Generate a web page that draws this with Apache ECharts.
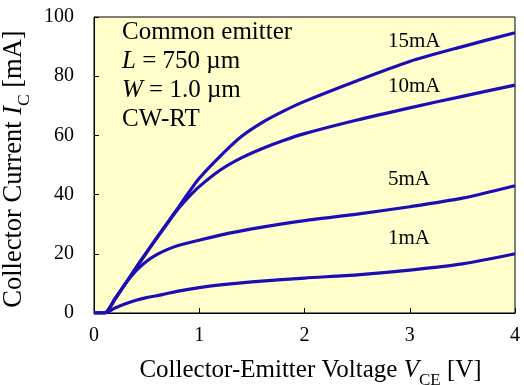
<!DOCTYPE html>
<html><head><meta charset="utf-8">
<script src="https://cdn.jsdelivr.net/npm/echarts@6/dist/echarts.min.js"></script>
<style>html,body{margin:0;padding:0;background:#fff}#c{width:524px;height:385px}</style>
</head><body><div id="c"></div>
<script>
const xTicks = [0, 1, 2, 3, 4];
const yTicks = [0, 20, 40, 60, 80, 100];
const curveNames = ['15mA', '10mA', '5mA', '1mA'];
const vce15 = [0, 0.1, 0.2, 0.3, 0.4, 0.5, 0.6, 0.7, 0.8, 0.9, 1.0, 1.2, 1.4, 1.6, 1.8, 2.0, 2.5, 3.0, 3.5, 4.0];
const ic15  = [0, 0, 4.8, 10, 15.3, 20.5, 25.6, 30.6, 35.6, 40.7, 45.5, 53, 59.6, 64.4, 68.2, 71.5, 78.5, 85, 90, 94.7];
const vce10 = [0, 0.1, 0.2, 0.3, 0.4, 0.5, 0.6, 0.7, 0.8, 0.9, 1.0, 1.2, 1.4, 1.6, 1.8, 2.0, 2.5, 3.0, 3.5, 4.0];
const ic10  = [0, 0, 4.8, 10, 15.3, 20.5, 25.5, 30.4, 35.2, 39.2, 42.7, 48.3, 52.4, 55.6, 58.3, 60.6, 65.2, 69.3, 73.2, 77];
const vce5  = [0, 0.1, 0.2, 0.3, 0.4, 0.5, 0.6, 0.7, 0.8, 1.0, 1.2, 1.5, 2.0, 2.5, 3.0, 3.5, 4.0];
const ic5   = [0, 0, 4.7, 10, 14.3, 17.5, 19.8, 21.5, 22.8, 24.6, 26.3, 28.4, 31.2, 33.4, 35.9, 38.8, 43];
const vce1  = [0, 0.1, 0.2, 0.3, 0.4, 0.5, 0.65, 0.8, 1.0, 1.2, 1.5, 2.0, 2.5, 3.0, 3.5, 4.0];
const ic1   = [0, 0, 1.7, 3.1, 4.3, 5.2, 6.2, 7.4, 8.6, 9.5, 10.5, 11.8, 12.9, 14.5, 16.6, 20];
const noteLines = ['Common emitter', 'L = 750 \u00b5m', 'W = 1.0 \u00b5m', 'CW-RT'];

const FONT = '"Liberation Serif", "Times New Roman", serif';
const LINE = '#1e0cb4';
const pairs = (xs, ys) => xs.map((x, i) => [x, ys[i]]);
const dataSets = [pairs(vce15, ic15), pairs(vce10, ic10), pairs(vce5, ic5), pairs(vce1, ic1)];

const chart = echarts.init(document.getElementById('c'), null, {renderer: 'canvas'});
const option = {
  animation: false,
  backgroundColor: '#ffffff',
  textStyle: {fontFamily: FONT, color: '#000'},
  grid: {left: 94, right: 9, top: 17, bottom: 72, show: true, containLabel: false, outerBoundsMode: 'none',
    backgroundColor: '#ffffcc', borderColor: '#000', borderWidth: 1},
  xAxis: {
    type: 'value', min: xTicks[0], max: xTicks[xTicks.length - 1], interval: 1,
    axisLine: {show: true, lineStyle: {color: '#000', width: 1}},
    axisTick: {show: true, inside: true, length: 5, lineStyle: {color: '#000'}},
    splitLine: {show: false},
    axisLabel: {fontFamily: FONT, fontSize: 20, color: '#000', margin: 13},
    name: 'Collector-Emitter Voltage {i|V}{s|CE} [V]',
    nameLocation: 'middle', nameGap: 45,
    nameTextStyle: {fontFamily: FONT, fontSize: 25, color: '#000', padding: [0, 0, 0, 12],
      rich: {i: {fontFamily: FONT, fontSize: 25, fontStyle: 'italic', color: '#000'},
             s: {fontFamily: FONT, fontSize: 17, color: '#000', verticalAlign: 'bottom', padding: [0, 0, -6, 0]}}}
  },
  yAxis: {
    type: 'value', min: yTicks[0], max: yTicks[yTicks.length - 1], interval: 20,
    axisLine: {show: true, lineStyle: {color: '#000', width: 1}},
    axisTick: {show: true, inside: true, length: 5, lineStyle: {color: '#000'}},
    splitLine: {show: false},
    axisLabel: {fontFamily: FONT, fontSize: 20, color: '#000', margin: 20},
    name: 'Collector Current {i|I}{s|C} [mA]',
    nameLocation: 'middle', nameGap: 54,
    nameTextStyle: {fontFamily: FONT, fontSize: 26.5, color: '#000', padding: [0, 8, 0, 0],
      rich: {i: {fontFamily: FONT, fontSize: 26.5, fontStyle: 'italic', color: '#000'},
             s: {fontFamily: FONT, fontSize: 17.5, color: '#000', verticalAlign: 'bottom', padding: [0, 0, -6, 0]}}}
  },
  series: dataSets.map((d, k) => ({
    name: curveNames[k], type: 'line', data: d, smooth: 0.25, showSymbol: false,
    lineStyle: {color: LINE, width: 3.2}, z: 3
  })),
  graphic: [
    {type: 'text', left: 122, top: 20, style: {text: noteLines[0], font: '25px ' + FONT, fill: '#000'}},
    {type: 'text', left: 122, top: 49, style: {text: '{i|L} = 750 \u00b5m', font: '25px ' + FONT, fill: '#000',
      rich: {i: {fontStyle: 'italic', fontSize: 25, fontFamily: FONT}}}},
    {type: 'text', left: 122, top: 78, style: {text: '{i|W} = 1.0 \u00b5m', font: '25px ' + FONT, fill: '#000',
      rich: {i: {fontStyle: 'italic', fontSize: 25, fontFamily: FONT}}}},
    {type: 'text', left: 122, top: 107, style: {text: noteLines[3], font: '25px ' + FONT, fill: '#000'}},
    {type: 'text', left: 388, top: 31, style: {text: curveNames[0], font: '21px ' + FONT, fill: '#000'}},
    {type: 'text', left: 388, top: 76, style: {text: curveNames[1], font: '21px ' + FONT, fill: '#000'}},
    {type: 'text', left: 388, top: 169, style: {text: curveNames[2], font: '21px ' + FONT, fill: '#000'}},
    {type: 'text', left: 388, top: 228, style: {text: curveNames[3], font: '21px ' + FONT, fill: '#000'}}
  ]
};
chart.setOption(option);
</script></body></html>
